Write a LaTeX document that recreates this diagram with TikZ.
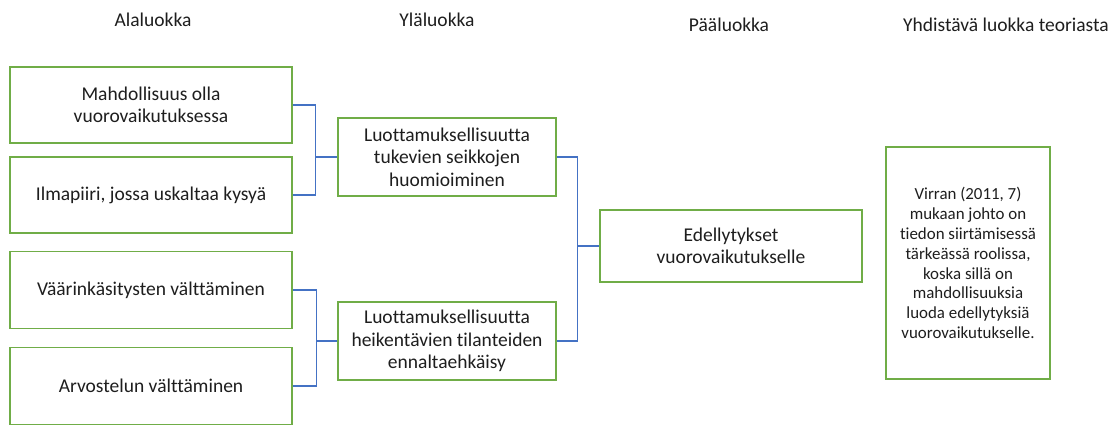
\documentclass[tikz,border=0pt]{standalone}
\usepackage{fontspec}
\setmainfont{Carlito}[Ligatures=NoCommon]
\definecolor{boxgreen}{HTML}{70AD47}
\definecolor{linkblue}{HTML}{4472C4}
\definecolor{txt}{HTML}{1E1E1E}
\begin{document}
\begin{tikzpicture}[x=1pt,y=-1pt,
  box/.style={draw=boxgreen,line width=1.2pt,fill=white,align=center,text=txt,
    font=\fontsize{19.5}{22.5}\selectfont,inner sep=2pt},
  head/.style={text=txt,font=\fontsize{19.5}{22}\selectfont},
  link/.style={draw=linkblue,line width=1.2pt}]
\useasboundingbox (0,0) rectangle (1117,424);
% column headings
\node[head] (h1) at (153,20) {Alaluokka};
\node[head] (h2) at (437,20) {Yläluokka};
\node[head] (h3) at (729,25) {Pääluokka};
\node[head] (h4) at (1006,25) {Yhdistävä luokka teoriasta};
% sub-categories
\node[box,minimum width=282pt,minimum height=76pt] (a1) at (151,105) {Mahdollisuus olla\\vuorovaikutuksessa};
\node[box,minimum width=282pt,minimum height=76pt] (a2) at (151,195) {Ilmapiiri, jossa uskaltaa kysyä};
\node[box,minimum width=282pt,minimum height=77pt] (a3) at (151,290) {Väärinkäsitysten välttäminen};
\node[box,minimum width=282pt,minimum height=77pt] (a4) at (151,386) {Arvostelun välttäminen};
% upper categories
\node[box,minimum width=218pt,minimum height=78pt] (u1) at (447,157) {Luottamuksellisuutta\\tukevien seikkojen\\huomioiminen};
\node[box,minimum width=218pt,minimum height=78pt] (u2) at (447,341) {Luottamuksellisuutta\\heikentävien tilanteiden\\ennaltaehkäisy};
% main category
\node[box,minimum width=262pt,minimum height=72pt] (p) at (731,246) {Edellytykset\\vuorovaikutukselle};
% theory box
\node[box,minimum width=164pt,minimum height=232pt,font=\fontsize{16.9}{19.8}\selectfont] (t) at (968,263)
  {Virran (2011, 7)\\mukaan johto on\\tiedon siirtämisessä\\tärkeässä roolissa,\\koska sillä on\\mahdollisuuksia\\luoda edellytyksiä\\vuorovaikutukselle.};
% bracket connectors
\draw[link] (a1.east) -- ++(23,0) |- (u1.west);
\draw[link] (a2.east) -- ++(23,0) |- (u1.west);
\draw[link] (a3.east) -- ++(24,0) |- (u2.west);
\draw[link] (a4.east) -- ++(24,0) |- (u2.west);
\draw[link] (u1.east) -- ++(21,0) |- (p.west);
\draw[link] (u2.east) -- ++(21,0) |- (p.west);
\end{tikzpicture}
\end{document}
